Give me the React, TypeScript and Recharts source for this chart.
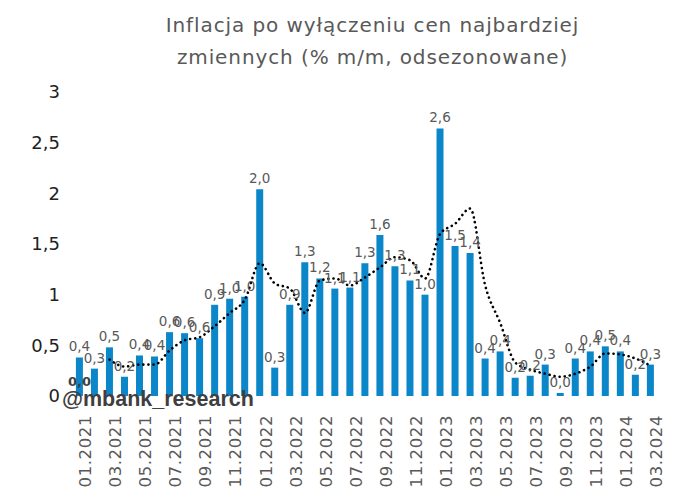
import {
  ComposedChart, Bar, Line, XAxis, YAxis, LabelList,
} from "recharts";

const months = [
  "01.2021", "02.2021", "03.2021", "04.2021", "05.2021", "06.2021", "07.2021", "08.2021", "09.2021", "10.2021", "11.2021", "12.2021",
  "01.2022", "02.2022", "03.2022", "04.2022", "05.2022", "06.2022", "07.2022", "08.2022", "09.2022", "10.2022", "11.2022", "12.2022",
  "01.2023", "02.2023", "03.2023", "04.2023", "05.2023", "06.2023", "07.2023", "08.2023", "09.2023", "10.2023", "11.2023", "12.2023",
  "01.2024", "02.2024", "03.2024",
];

const core = [
  0.38, 0.27, 0.48, 0.19, 0.40, 0.39, 0.63, 0.62, 0.57, 0.90, 0.96, 0.98,
  2.04, 0.28, 0.90, 1.32, 1.16, 1.06, 1.07, 1.31, 1.59, 1.28, 1.14, 1.00,
  2.64, 1.48, 1.41, 0.37, 0.44, 0.18, 0.20, 0.31, 0.03, 0.37, 0.44, 0.49,
  0.44, 0.21, 0.31,
];

// 3m average as drawn (dotted line)
const avg3m: (number | null)[] = [
  null, null, 0.36, 0.29, 0.31, 0.31, 0.45, 0.55, 0.58, 0.69, 0.82, 0.95,
  1.31, 1.11, 1.06, 0.82, 1.14, 1.16, 1.09, 1.17, 1.27, 1.37, 1.34, 1.16,
  1.60, 1.70, 1.85, 1.09, 0.72, 0.33, 0.26, 0.22, 0.19, 0.22, 0.29, 0.42,
  0.41, 0.37, 0.30,
];

const yTicks = [0, 0.5, 1, 1.5, 2, 2.5, 3];

const data = months.map((m, i) => ({
  month: m,
  core: core[i],
  avg: avg3m[i],
  marker: i === 0 ? 0 : null,
}));

const fmt = (v: number) => v.toFixed(1).replace(".", ",");
const font = "'DejaVu Sans', Verdana, sans-serif";

export default function App() {
  return (
    <div style={{ position: "absolute", left: 0, top: 0, width: 685, height: 490, background: "#fff", fontFamily: font }}>
      <div style={{
        position: "absolute", left: 0, width: 685, top: 9, paddingLeft: 60, boxSizing: "border-box",
        textAlign: "center", color: "#595959", fontSize: 20, letterSpacing: 0.9, lineHeight: "32px",
      }}>
        Inflacja po wyłączeniu cen najbardziej<br />zmiennych (% m/m, odsezonowane)
      </div>
      <ComposedChart
        width={685} height={490} data={data}
        margin={{ top: 92, right: 27, left: 0, bottom: 4 }}
        barCategoryGap="26%"
      >
        <XAxis
          dataKey="month" interval={1} axisLine={false} tickLine={false}
          height={90} angle={-90} textAnchor="end" tickMargin={13}
          tick={{ fill: "#595959", fontSize: 16.5, letterSpacing: 0.6, fontFamily: font }}
        />
        <YAxis
          domain={[0, 3]} ticks={yTicks} axisLine={false} tickLine={false}
          width={72} tickMargin={6}
          tickFormatter={(v) => String(v).replace(".", ",")}
          tick={{ fill: "#222", fontSize: 18, fontFamily: font }}
        />
        <Bar dataKey="core" fill="#0a86c9" isAnimationActive={false}>
          <LabelList dataKey="core" position="top" offset={6} formatter={(v: number) => fmt(v)}
            style={{ fill: "#595959", fontSize: 13.5, fontFamily: font }} />
        </Bar>
        <Line
          dataKey="avg" type="monotone" stroke="#000" strokeWidth={2.6}
          strokeDasharray="0.1 5" strokeLinecap="round" dot={false}
          isAnimationActive={false} connectNulls={false}
        />
        <Line dataKey="marker" stroke="none" dot={false} isAnimationActive={false}>
          <LabelList dataKey="marker" position="top" offset={10} formatter={(v: number) => fmt(v)}
            style={{ fill: "#404040", fontSize: 13, fontWeight: "bold", fontFamily: font }} />
        </Line>
      </ComposedChart>
      <div style={{
        position: "absolute", left: 62, top: 387, color: "#3f3f3f",
        fontFamily: "'Liberation Sans', Arial, sans-serif", fontWeight: "bold", fontSize: 21.5,
      }}>
        @mbank_research
      </div>
    </div>
  );
}
